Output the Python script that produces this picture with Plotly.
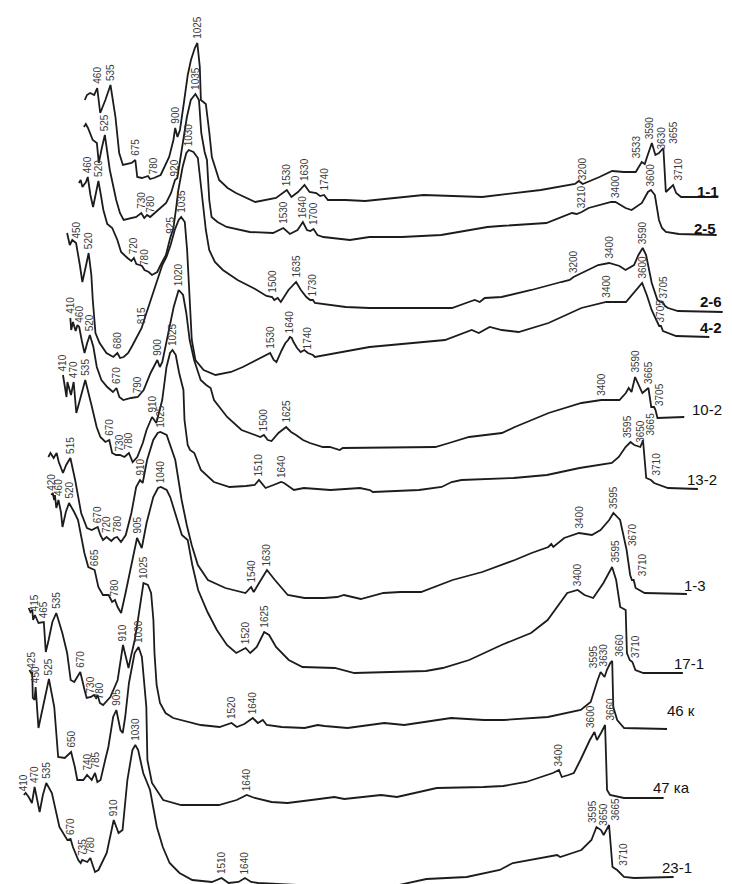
import numpy as np
import plotly.graph_objects as go

# ---------------- DATA (wavenumber, cm-1  /  relative absorbance, a.u.) ----------------
sample_names = ["1-1", "2-5", "2-6", "4-2", "10-2", "13-2", "1-3", "17-1", "46 к", "47 ка", "23-1"]

wn_1_1 = [390, 402, 420, 443, 460, 477, 506, 535, 563, 584, 605, 654, 675, 686, 712, 747, 758, 780, 818, 866,
          890, 900, 913, 927, 949, 971, 989, 1011, 1025, 1039, 1045, 1073, 1093, 1107, 1148, 1196, 1243, 1352,
          1469, 1530, 1556, 1593, 1630, 1658, 1696, 1718, 1740, 1762, 1861, 1972, 2302, 2632, 2963, 3073, 3156,
          3178, 3200, 3294, 3366, 3432, 3499, 3533, 3550, 3561, 3590, 3610, 3630, 3655, 3669, 3710, 3727, 3755, 3965]
ab_1_1 = [0.97, 1.02, 1.04, 1.02, 1.09, 0.84, 0.97, 1.12, 0.80, 0.44, 0.32, 0.34, 0.37, 0.20, 0.19, 0.21, 0.18,
          0.19, 0.22, 0.40, 0.57, 0.69, 0.60, 0.67, 0.94, 1.22, 1.37, 1.49, 1.54, 1.30, 0.97, 0.93, 0.64, 0.40,
          0.17, 0.09, 0.04, -0.05, -0.01, 0.07, 0.00, 0.05, 0.12, 0.05, 0.04, 0.01, 0.02, -0.03, -0.03, -0.04,
          0.02, 0.00, 0.07, 0.10, 0.13, 0.16, 0.13, 0.20, 0.26, 0.25, 0.25, 0.35, 0.33, 0.39, 0.54, 0.42, 0.44,
          0.49, 0.05, 0.12, 0.04, 0.00, 0.00]
peaks_1_1 = [460, 535, 675, 780, 900, 1025, 1530, 1630, 1740, 3200, 3533, 3590, 3630, 3655, 3710]

wn_2_5 = [407, 418, 430, 441, 457, 480, 491, 508, 525, 553, 589, 610, 631, 702, 730, 747, 763, 780, 825, 870,
          898, 920, 933, 964, 987, 1009, 1035, 1055, 1068, 1087, 1100, 1113, 1126, 1159, 1211, 1341, 1472, 1530,
          1567, 1610, 1640, 1663, 1682, 1700, 1722, 1755, 1905, 2015, 2198, 2419, 2568, 2679, 2751, 3011, 3155,
          3182, 3210, 3249, 3376, 3400, 3457, 3491, 3549, 3583, 3600, 3622, 3645, 3662, 3684, 3757, 3970]
ab_2_5 = [1.08, 1.11, 1.07, 1.02, 0.95, 0.92, 0.72, 0.87, 1.00, 0.65, 0.35, 0.22, 0.15, 0.18, 0.22, 0.17, 0.20,
          0.18, 0.25, 0.32, 0.42, 0.55, 0.57, 0.92, 1.18, 1.35, 1.41, 1.35, 1.02, 0.83, 0.75, 0.35, 0.18, 0.13,
          0.08, 0.03, 0.02, 0.07, 0.01, 0.05, 0.13, 0.05, 0.04, 0.06, 0.00, -0.02, -0.05, -0.02, -0.02, 0.00,
          0.05, 0.08, 0.09, 0.12, 0.22, 0.21, 0.23, 0.27, 0.33, 0.33, 0.27, 0.25, 0.32, 0.43, 0.45, 0.40, 0.15,
          0.07, 0.03, 0.01, 0.00]
peaks_2_5 = [525, 730, 780, 920, 1035, 1530, 1640, 1700, 3210, 3400, 3600]

wn_2_6 = [410, 420, 430, 440, 450, 460, 475, 490, 505, 520, 534, 548, 570, 598, 627, 648, 684, 706, 720, 734,
          752, 766, 780, 804, 822, 852, 871, 901, 925, 943, 957, 971, 995, 1016, 1030, 1056, 1081, 1100, 1126,
          1145, 1177, 1222, 1305, 1404, 1468, 1500, 1512, 1531, 1549, 1592, 1635, 1662, 1693, 1714, 1730, 1741,
          1915, 2049, 2514, 2609, 2643, 2671, 2699, 2794, 2962, 3130, 3178, 3200, 3244, 3339, 3400, 3459, 3493,
          3541, 3566, 3590, 3609, 3641, 3673, 3705, 3716, 3733, 3789, 4041]
ab_2_6 = [1.29, 1.32, 1.25, 1.28, 1.30, 1.35, 1.17, 1.05, 1.17, 1.31, 1.17, 1.02, 0.88, 0.84, 0.72, 0.60, 0.54,
          0.51, 0.54, 0.48, 0.47, 0.46, 0.42, 0.40, 0.37, 0.40, 0.47, 0.57, 0.74, 0.84, 1.02, 1.22, 1.45, 1.59,
          1.62, 1.60, 1.54, 1.25, 0.82, 0.62, 0.50, 0.42, 0.32, 0.23, 0.16, 0.15, 0.12, 0.14, 0.10, 0.22, 0.30,
          0.22, 0.15, 0.12, 0.12, 0.09, 0.05, 0.04, 0.04, 0.10, 0.12, 0.10, 0.14, 0.15, 0.22, 0.30, 0.32, 0.35,
          0.39, 0.47, 0.49, 0.46, 0.42, 0.47, 0.57, 0.64, 0.57, 0.29, 0.12, 0.09, 0.06, 0.04, 0.01, 0.00]
peaks_2_6 = [460, 520, 720, 780, 925, 1030, 1500, 1635, 1730, 3200, 3400, 3590, 3705]

wn_4_2 = [400, 415, 429, 450, 471, 485, 506, 520, 535, 543, 558, 581, 619, 657, 680, 695, 715, 740, 765, 800,
          815, 838, 861, 884, 907, 930, 953, 976, 999, 1021, 1035, 1055, 1068, 1081, 1094, 1114, 1160, 1226,
          1312, 1378, 1490, 1530, 1550, 1565, 1595, 1615, 1630, 1640, 1650, 1660, 1680, 1700, 1720, 1740, 1768,
          1779, 2083, 2503, 2652, 2691, 2752, 2819, 2913, 3079, 3262, 3400, 3510, 3575, 3600, 3626, 3653, 3679,
          3695, 3705, 3716, 3789, 3974]
ab_4_2 = [1.04, 0.92, 0.97, 0.94, 0.72, 0.55, 0.72, 0.84, 0.62, 0.37, 0.04, -0.06, -0.16, -0.20, -0.16, -0.21,
          -0.20, -0.16, -0.08, 0.04, 0.09, 0.22, 0.34, 0.47, 0.60, 0.72, 0.80, 0.92, 1.07, 1.17, 1.20, 1.15, 0.87,
          0.37, -0.03, -0.23, -0.33, -0.38, -0.35, -0.30, -0.20, -0.16, -0.23, -0.25, -0.13, -0.06, -0.03, 0.00,
          -0.01, -0.05, -0.11, -0.15, -0.13, -0.16, -0.18, -0.20, -0.10, -0.03, 0.07, 0.04, 0.10, 0.07, 0.05,
          0.14, 0.29, 0.35, 0.35, 0.49, 0.54, 0.42, 0.27, 0.17, 0.11, 0.11, 0.06, 0.01, 0.00]
peaks_4_2 = [450, 520, 680, 815, 1035, 1530, 1640, 1740, 3400, 3600, 3705]

wn_10_2 = [410, 415, 425, 440, 450, 460, 475, 490, 505, 520, 540, 559, 585, 618, 650, 670, 686, 708, 752, 790,
           823, 862, 900, 914, 928, 960, 992, 1020, 1045, 1063, 1082, 1107, 1144, 1175, 1200, 1219, 1293, 1374,
           1480, 1500, 1522, 1543, 1582, 1625, 1653, 1681, 1720, 1759, 1832, 1871, 1927, 1944, 2280, 2465, 2543,
           2655, 2840, 2913, 3103, 3288, 3400, 3502, 3538, 3554, 3570, 3590, 3631, 3665, 3681, 3697, 3705, 3716,
           3867]
ab_10_2 = [0.99, 0.87, 0.95, 0.86, 0.92, 0.90, 0.76, 0.64, 0.74, 0.82, 0.70, 0.50, 0.37, 0.30, 0.25, 0.29, 0.20,
           0.17, 0.19, 0.20, 0.27, 0.44, 0.57, 0.50, 0.55, 0.84, 1.10, 1.27, 1.22, 1.04, 0.77, 0.57, 0.37, 0.32,
           0.29, 0.17, 0.00, -0.13, -0.20, -0.18, -0.23, -0.24, -0.16, -0.10, -0.15, -0.18, -0.23, -0.26, -0.30,
           -0.30, -0.33, -0.31, -0.30, -0.30, -0.26, -0.20, -0.16, -0.10, 0.04, 0.14, 0.17, 0.17, 0.24, 0.29, 0.25,
           0.40, 0.24, 0.29, 0.10, 0.10, 0.07, -0.01, 0.00]
peaks_10_2 = [410, 460, 520, 670, 790, 900, 1020, 1500, 1625, 3400, 3590, 3665, 3705]

wn_13_2 = [410, 420, 430, 435, 445, 455, 470, 485, 505, 535, 570, 599, 620, 648, 670, 686, 708, 730, 755, 780,
           801, 827, 858, 879, 910, 934, 967, 991, 1011, 1025, 1043, 1062, 1086, 1092, 1110, 1123, 1147, 1184,
           1257, 1345, 1437, 1486, 1510, 1547, 1591, 1634, 1651, 1706, 1762, 1911, 2077, 2132, 2149, 2408, 2535,
           2591, 2646, 2867, 2939, 3126, 3309, 3490, 3529, 3567, 3595, 3616, 3650, 3659, 3665, 3683, 3710, 3727,
           3805, 3973]
ab_13_2 = [1.14, 1.04, 0.92, 1.07, 0.99, 0.94, 1.07, 0.76, 0.89, 1.09, 0.84, 0.62, 0.52, 0.47, 0.49, 0.36, 0.34,
           0.34, 0.32, 0.36, 0.27, 0.32, 0.46, 0.59, 0.72, 0.66, 0.89, 1.22, 1.36, 1.39, 1.34, 1.16, 0.99, 0.69,
           0.44, 0.39, 0.36, 0.19, 0.07, 0.02, 0.03, 0.04, 0.09, 0.01, 0.04, 0.07, 0.06, -0.01, 0.01, -0.01, 0.01,
           -0.01, -0.03, -0.01, 0.02, 0.07, 0.09, 0.10, 0.11, 0.14, 0.21, 0.26, 0.32, 0.42, 0.47, 0.44, 0.42, 0.46,
           0.49, 0.11, 0.09, 0.06, 0.01, 0.00]
peaks_13_2 = [410, 470, 535, 670, 730, 780, 910, 1025, 1510, 1640, 3595, 3650, 3665, 3710]

wn_1_3 = [390, 402, 420, 437, 449, 473, 491, 515, 542, 576, 609, 636, 670, 685, 700, 720, 747, 764, 780, 802,
          829, 861, 888, 910, 925, 950, 985, 1010, 1025, 1061, 1110, 1146, 1175, 1203, 1238, 1295, 1394, 1508,
          1540, 1555, 1585, 1630, 1675, 1748, 1843, 1955, 2028, 2067, 2162, 2291, 2386, 2504, 2683, 2851, 3036,
          3131, 3226, 3243, 3254, 3316, 3400, 3473, 3522, 3571, 3595, 3633, 3670, 3690, 3700, 3710, 3721, 3772,
          4012]
ab_1_3 = [1.37, 1.41, 1.36, 1.41, 1.32, 1.21, 1.29, 1.36, 1.14, 0.81, 0.66, 0.64, 0.67, 0.59, 0.54, 0.57, 0.53,
          0.56, 0.57, 0.52, 0.59, 0.81, 1.07, 1.14, 1.11, 1.34, 1.54, 1.61, 1.62, 1.59, 1.34, 0.94, 0.69, 0.49,
          0.29, 0.14, 0.06, 0.01, 0.07, 0.02, 0.11, 0.24, 0.14, -0.01, -0.04, -0.04, -0.03, -0.01, -0.05, 0.01,
          0.02, 0.02, 0.14, 0.22, 0.34, 0.41, 0.47, 0.50, 0.47, 0.56, 0.61, 0.59, 0.64, 0.74, 0.81, 0.74, 0.44,
          0.19, 0.14, 0.14, 0.06, 0.01, 0.00]
peaks_1_3 = [515, 670, 720, 780, 910, 1025, 1540, 1630, 3400, 3595, 3670, 3710]

wn_17_1 = [420, 428, 436, 440, 448, 460, 474, 483, 502, 520, 549, 571, 607, 629, 665, 686, 712, 744, 764, 780,
           795, 815, 840, 870, 895, 905, 932, 959, 997, 1024, 1040, 1073, 1093, 1126, 1159, 1192, 1218, 1251,
           1304, 1357, 1414, 1467, 1500, 1520, 1546, 1583, 1625, 1653, 1692, 1764, 1842, 2025, 2136, 2319, 2541,
           2636, 2786, 2969, 3041, 3136, 3230, 3341, 3400, 3439, 3488, 3546, 3595, 3618, 3641, 3672, 3679, 3695,
           3710, 3727, 3772, 3996]
ab_17_1 = [1.78, 1.80, 1.73, 1.78, 1.65, 1.73, 1.61, 1.46, 1.61, 1.70, 1.61, 1.53, 1.20, 1.06, 1.03, 0.86, 0.78,
           0.78, 0.71, 0.73, 0.66, 0.60, 0.80, 1.06, 1.30, 1.35, 1.25, 1.50, 1.76, 1.85, 1.86, 1.83, 1.76, 1.56,
           1.38, 1.33, 1.08, 0.83, 0.61, 0.43, 0.28, 0.20, 0.23, 0.25, 0.20, 0.26, 0.41, 0.38, 0.26, 0.13, 0.06,
           0.05, 0.00, 0.01, 0.02, 0.05, 0.13, 0.28, 0.33, 0.40, 0.53, 0.80, 0.83, 0.78, 0.75, 0.90, 1.06, 0.93,
           0.66, 0.63, 0.20, 0.13, 0.11, 0.03, 0.00, 0.00]
peaks_17_1 = [420, 460, 520, 665, 780, 905, 1040, 1520, 1625, 3400, 3595, 3710]

wn_46k = [380, 390, 400, 405, 415, 435, 465, 476, 492, 513, 535, 569, 596, 616, 636, 670, 694, 706, 730, 747,
          759, 767, 780, 798, 839, 880, 910, 932, 941, 954, 976, 994, 1012, 1025, 1050, 1068, 1081, 1087, 1099,
          1118, 1149, 1192, 1347, 1453, 1520, 1550, 1592, 1640, 1668, 1696, 1718, 1802, 1931, 2004, 2043, 2172,
          2379, 2491, 2754, 2939, 3051, 3298, 3483, 3539, 3578, 3595, 3617, 3630, 3649, 3660, 3666, 3688, 3727,
          3968]
ab_46k = [1.21, 1.17, 1.19, 1.09, 1.14, 1.06, 1.07, 0.77, 0.89, 1.07, 1.16, 0.96, 0.76, 0.49, 0.47, 0.57, 0.39,
          0.31, 0.32, 0.34, 0.31, 0.34, 0.26, 0.24, 0.32, 0.49, 0.84, 0.66, 0.61, 0.72, 0.89, 1.09, 1.29, 1.46,
          1.44, 1.36, 1.09, 0.76, 0.44, 0.26, 0.16, 0.11, 0.04, 0.02, 0.06, 0.02, 0.05, 0.11, 0.06, 0.09, 0.04,
          0.02, 0.01, 0.04, 0.03, 0.01, 0.06, 0.04, 0.11, 0.09, 0.09, 0.12, 0.19, 0.27, 0.49, 0.57, 0.52, 0.59,
          0.66, 0.68, 0.22, 0.09, 0.01, 0.00]
peaks_46k = [415, 465, 535, 670, 730, 780, 910, 1025, 1520, 1640, 3595, 3630, 3660]

wn_47ka = [415, 425, 431, 434, 444, 450, 466, 493, 525, 555, 577, 614, 650, 671, 685, 719, 740, 766, 785, 798,
           816, 842, 860, 887, 905, 928, 941, 955, 976, 1008, 1030, 1049, 1062, 1074, 1080, 1106, 1169, 1270,
           1483, 1583, 1640, 1685, 1780, 1870, 2005, 2134, 2190, 2397, 2487, 2711, 2974, 3086, 3215, 3366, 3400,
           3416, 3453, 3484, 3521, 3574, 3600, 3614, 3637, 3660, 3671, 3688, 3766, 3990]
ab_47ka = [1.28, 1.25, 1.26, 1.00, 0.98, 1.11, 0.70, 0.93, 1.19, 0.91, 0.41, 0.40, 0.46, 0.31, 0.18, 0.18, 0.23,
           0.18, 0.25, 0.16, 0.18, 0.38, 0.51, 0.81, 0.88, 0.68, 0.65, 0.81, 1.15, 1.45, 1.51, 1.41, 1.18, 0.91,
           0.38, 0.15, -0.02, -0.07, -0.07, -0.02, 0.03, 0.00, -0.04, -0.05, -0.02, 0.01, -0.01, 0.03, 0.01, 0.10,
           0.11, 0.12, 0.16, 0.25, 0.28, 0.21, 0.23, 0.25, 0.38, 0.58, 0.66, 0.58, 0.65, 0.73, 0.08, 0.03, 0.00,
           0.00]
peaks_47ka = [425, 450, 525, 650, 740, 785, 905, 1030, 1640, 3400, 3600, 3660]

wn_23_1 = [410, 420, 437, 455, 470, 484, 498, 516, 535, 566, 608, 652, 670, 683, 713, 726, 735, 763, 780, 806,
           825, 871, 904, 910, 937, 959, 986, 1014, 1030, 1046, 1074, 1112, 1150, 1183, 1221, 1276, 1347, 1456,
           1510, 1549, 1604, 1640, 1674, 1713, 1937, 2217, 2497, 2649, 2873, 3057, 3130, 3320, 3376, 3393, 3511,
           3567, 3595, 3620, 3635, 3650, 3658, 3665, 3684, 3710, 3748, 3804, 4024]
ab_23_1 = [0.82, 0.84, 0.80, 0.74, 0.90, 0.77, 0.65, 0.82, 0.94, 0.84, 0.50, 0.37, 0.38, 0.30, 0.17, 0.14, 0.17,
           0.15, 0.19, 0.05, 0.07, 0.24, 0.50, 0.57, 0.44, 0.47, 0.97, 1.27, 1.32, 1.27, 1.04, 0.87, 0.50, 0.30,
           0.14, 0.04, -0.03, -0.05, -0.01, -0.06, -0.05, -0.01, -0.05, -0.06, -0.08, -0.09, -0.08, -0.02, 0.00,
           0.07, 0.14, 0.20, 0.22, 0.20, 0.27, 0.37, 0.50, 0.47, 0.42, 0.47, 0.50, 0.52, 0.10, 0.07, 0.00, -0.01,
           0.00]
peaks_23_1 = [410, 470, 535, 670, 735, 780, 910, 1030, 1510, 1640, 3595, 3650, 3665, 3710]

spectra = [
    (sample_names[0], wn_1_1, ab_1_1, peaks_1_1),
    (sample_names[1], wn_2_5, ab_2_5, peaks_2_5),
    (sample_names[2], wn_2_6, ab_2_6, peaks_2_6),
    (sample_names[3], wn_4_2, ab_4_2, peaks_4_2),
    (sample_names[4], wn_10_2, ab_10_2, peaks_10_2),
    (sample_names[5], wn_13_2, ab_13_2, peaks_13_2),
    (sample_names[6], wn_1_3, ab_1_3, peaks_1_3),
    (sample_names[7], wn_17_1, ab_17_1, peaks_17_1),
    (sample_names[8], wn_46k, ab_46k, peaks_46k),
    (sample_names[9], wn_47ka, ab_47ka, peaks_47ka),
    (sample_names[10], wn_23_1, ab_23_1, peaks_23_1),
]

# ---------------- LAYOUT / POSITIONS (staggered waterfall geometry) ----------------
PAGE_MARGIN = 8                     # default <body> margin of the page that holds the figure
FIG_W, FIG_H = 716, 876
x0_px = [15.7, 11.6, 6.2, -4.8, -2.5, -10.1, -20.4, -22.8, -38.9, -44.2, -49.9]        # page pixel of 0 cm-1
px_per_cm = [0.1772, 0.1776, 0.1773, 0.1797, 0.1776, 0.1782, 0.1763, 0.1766, 0.1779, 0.1774, 0.1798]
baseline_px = [197, 235, 312, 337, 417, 489, 594, 673, 729, 798, 877]                 # page row of 0 a.u.
PX_PER_UNIT = 100.0
LABEL_GAP = 0.03                    # gap between a band and its label (a.u.)
name_pos = [(3907, 0.06), (3904, 0.07), (3975, 0.11), (3983, 0.10), (3995, 0.08), (3996, 0.10),
            (4058, 0.09), (4031, 0.10), (4047, 0.19), (4032, 0.11), (4045, 0.10)]
name_bold = [True, True, True, True, False, False, False, False, False, False, False]
label_dx = {
    ("1-1", 3533): -5, ("1-1", 3590): -2, ("1-1", 3630): 3, ("1-1", 3655): 10, ("1-1", 3710): 5,
    ("10-2", 3705): 4, ("13-2", 3595): -3, ("13-2", 3665): 7, ("13-2", 3710): 5,
    ("1-3", 3670): 6, ("1-3", 3710): 9, ("17-1", 3595): 3, ("17-1", 3710): 3,
    ("46 к", 3595): -7, ("46 к", 3630): -3, ("46 к", 3660): 7,
    ("47 ка", 3600): -4, ("47 ка", 3660): 5,
    ("23-1", 3595): -4, ("23-1", 3650): -3, ("23-1", 3665): 6, ("23-1", 3710): 6,
}

FONT = "Liberation Sans, Arial, sans-serif"
fig = go.Figure()
annotations = []
axes = {}
for i, (name, wn, ab, peaks) in enumerate(spectra):
    k = i + 1
    xa = "x" if k == 1 else f"x{k}"
    ya = "y" if k == 1 else f"y{k}"
    fig.add_trace(go.Scatter(x=wn, y=ab, xaxis=xa, yaxis=ya, mode="lines",
                             line=dict(color="#1c1c1c", width=1.8),
                             hoverinfo="skip", showlegend=False))
    ox = x0_px[i] - PAGE_MARGIN
    oy = baseline_px[i] - PAGE_MARGIN
    xr = [-ox / px_per_cm[i], (FIG_W - ox) / px_per_cm[i]]
    yr = [(oy - FIG_H) / PX_PER_UNIT, oy / PX_PER_UNIT]
    xd = dict(range=xr, visible=False, fixedrange=True, domain=[0, 1])
    yd = dict(range=yr, visible=False, fixedrange=True, domain=[0, 1])
    if k > 1:
        xd.update(overlaying="x", anchor=ya)
        yd.update(overlaying="y", anchor=xa)
    axes["xaxis" if k == 1 else f"xaxis{k}"] = xd
    axes["yaxis" if k == 1 else f"yaxis{k}"] = yd

    for p in peaks:
        v = float(np.interp(p, wn, ab)) + LABEL_GAP
        v = max(v, yr[0] + 0.005)
        annotations.append(dict(x=p, y=v, xref=xa, yref=ya, text=str(p), textangle=-90,
                                showarrow=False, xanchor="center", yanchor="bottom",
                                xshift=label_dx.get((name, p), 0), borderpad=0,
                                font=dict(family=FONT, size=10, color="#3a3a3a")))
    nx, ny = name_pos[i]
    txt = f"<b>{name}</b>" if name_bold[i] else name
    annotations.append(dict(x=nx, y=ny, xref=xa, yref=ya, text=txt, showarrow=False,
                            xanchor="center", yanchor="middle",
                            font=dict(family=FONT, size=15, color="#111111")))

fig.update_layout(
    width=FIG_W, height=FIG_H,
    margin=dict(l=0, r=0, t=0, b=0),
    paper_bgcolor="white", plot_bgcolor="white",
    showlegend=False,
    annotations=annotations,
    **axes,
)

fig.write_html("out.html")
